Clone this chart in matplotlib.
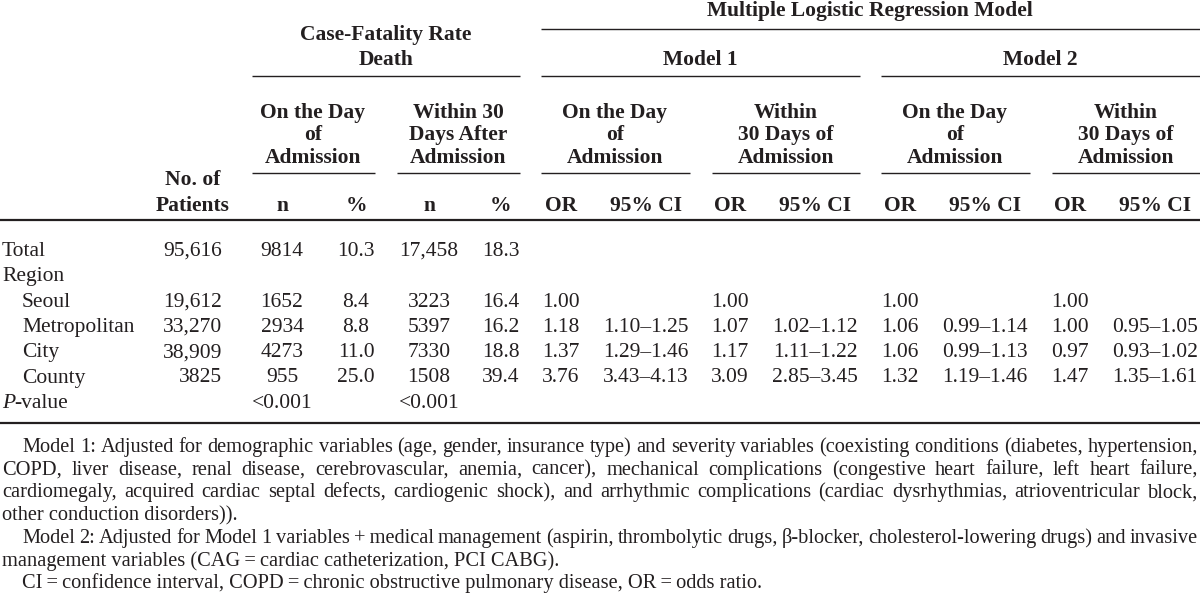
import matplotlib
matplotlib.use('Agg')
import matplotlib.pyplot as plt

plt.rcParams['font.family'] = ['Liberation Serif', 'DejaVu Serif']
INK = '#231f20'

# table cells, one list per column (rows: Total, Region, Seoul, Metropolitan, City, County, P-value)
row_labels = ['Total', 'Region', 'Seoul', 'Metropolitan', 'City', 'County', 'P-value']
patients = ['95,616', '', '19,612', '33,270', '38,909', '3825', '']
day_n = ['9814', '', '1652', '2934', '4273', '955', '<0.001']
day_pct = ['10.3', '', '8.4', '8.8', '11.0', '25.0', '']
d30_n = ['17,458', '', '3223', '5397', '7330', '1508', '<0.001']
d30_pct = ['18.3', '', '16.4', '16.2', '18.8', '39.4', '']
m1_day_or = ['', '', '1.00', '1.18', '1.37', '3.76', '']
m1_day_ci = ['', '', '', '1.10\u20131.25', '1.29\u20131.46', '3.43\u20134.13', '']
m1_30_or = ['', '', '1.00', '1.07', '1.17', '3.09', '']
m1_30_ci = ['', '', '', '1.02\u20131.12', '1.11\u20131.22', '2.85\u20133.45', '']
m2_day_or = ['', '', '1.00', '1.06', '1.06', '1.32', '']
m2_day_ci = ['', '', '', '0.99\u20131.14', '0.99\u20131.13', '1.19\u20131.46', '']
m2_30_or = ['', '', '1.00', '1.00', '0.97', '1.47', '']
m2_30_ci = ['', '', '', '0.95\u20131.05', '0.93\u20131.02', '1.35\u20131.61', '']

col_heads = ['n', '%', 'n', '%', 'OR', '95% CI', 'OR', '95% CI', 'OR', '95% CI', 'OR', '95% CI']
group_heads = ['On the Day\nof\nAdmission', 'Within 30\nDays After\nAdmission',
               'On the Day\nof\nAdmission', 'Within\n30 Days of\nAdmission',
               'On the Day\nof\nAdmission', 'Within\n30 Days of\nAdmission']

footnotes = [
    ['Model 1: Adjusted for demographic variables (age, gender, insurance type) and severity variables (coexisting conditions (diabetes, hypertension,',
     'COPD, liver disease, renal disease, cerebrovascular, anemia, cancer), mechanical complications (congestive heart failure, left heart failure,',
     'cardiomegaly, acquired cardiac septal defects, cardiogenic shock), and arrhythmic complications (cardiac dysrhythmias, atrioventricular block,',
     'other conduction disorders)).'],
    ['Model 2: Adjusted for Model 1 variables\u2009+\u2009medical management (aspirin, thrombolytic drugs, \u03b2-blocker, cholesterol-lowering drugs) and invasive',
     'management variables (CAG\u2009=\u2009cardiac catheterization, PCI CABG).'],
    ['CI\u2009=\u2009confidence interval, COPD\u2009=\u2009chronic obstructive pulmonary disease, OR\u2009=\u2009odds ratio.'],
]

W, H = 1200, 593
fig = plt.figure(figsize=(12, 5.93), dpi=100)
ax = fig.add_axes([0, 0, 1, 1])
ax.set_xlim(0, W); ax.set_ylim(H, 0); ax.axis('off')

FS = 15.5
def put(x, y, s, ha='center', bold=False, size=FS, style='normal'):
    return ax.text(x, y, s, ha=ha, va='baseline', fontsize=size, color=INK,
                   fontweight='bold' if bold else 'normal', fontstyle=style,
                   linespacing=1.18)

def hline(y, x0, x1, lw=1.0):
    ax.plot([x0, x1], [y, y], color=INK, lw=lw, solid_capstyle='butt')

# header
put(870, 16, 'Multiple Logistic Regression Model', bold=True)
hline(29, 541, 1200)
put(386, 40, 'Case-Fatality Rate', bold=True)
put(386, 65, 'Death', bold=True)
put(700, 65, 'Model 1', bold=True)
put(1040, 65, 'Model 2', bold=True)
for a, b in [(252, 520), (541, 860), (881, 1200)]:
    hline(76, a, b)
group_x = [313, 458, 615, 786, 955, 1126]
group_span = [(252, 375), (397, 520), (541, 690), (712, 860), (881, 1030), (1052, 1200)]
for gx, txt, (a, b) in zip(group_x, group_heads, group_span):
    put(gx, 163, txt, bold=True)
    hline(173, a, b)
put(193, 185, 'No. of', bold=True)
put(193, 211, 'Patients', bold=True)
col_x = [282, 356, 429, 501, 561, 646, 730, 815, 900, 985, 1070, 1155]
for cx, txt in zip(col_x, col_heads):
    put(cx, 211, txt, bold=True)
hline(220, 0, 1200, lw=1.6)

# body
cols = [day_n, day_pct, d30_n, d30_pct, m1_day_or, m1_day_ci, m1_30_or, m1_30_ci,
        m2_day_or, m2_day_ci, m2_30_or, m2_30_ci]
row_y = [256 + 25.3 * i for i in range(len(row_labels))]
for i, (lab, y) in enumerate(zip(row_labels, row_y)):
    if lab == 'P-value':
        put(2, y, 'P', ha='left', style='italic')
        put(14, y, '-value', ha='left')
    else:
        put(22 if 2 <= i <= 5 else 2, y, lab, ha='left')
    put(222, y, patients[i], ha='right')
    for cx, col in zip(col_x, cols):
        if col[i]:
            put(cx, y, col[i])
hline(423, 0, 1200, lw=1.6)

# footnotes, justified like the source
fig.canvas.draw()
rend = fig.canvas.get_renderer()
def width(s, size):
    t = put(0, 0, s, ha='left', size=size)
    w = t.get_window_extent(rend).width
    t.remove()
    return w

LEFT, RIGHT, INDENT = 2, 1198, 22
fsz = 13.0
# size the footnote so the first line fills the measure with normal spacing
fsz = fsz * (RIGHT - INDENT - 2) / width(footnotes[0][0], fsz)
y = 452
for para in footnotes:
    for j, line in enumerate(para):
        x0 = INDENT if j == 0 else LEFT
        if j == len(para) - 1:
            put(x0, y, line, ha='left', size=fsz)
        else:
            words = line.split(' ')
            ws = [width(w, fsz) for w in words]
            gap = (RIGHT - x0 - sum(ws)) / (len(words) - 1)
            x = x0
            for w, ww in zip(words, ws):
                put(x, y, w, ha='left', size=fsz)
                x += ww + gap
        y += 22.7

fig.savefig('out.png', dpi=100)
